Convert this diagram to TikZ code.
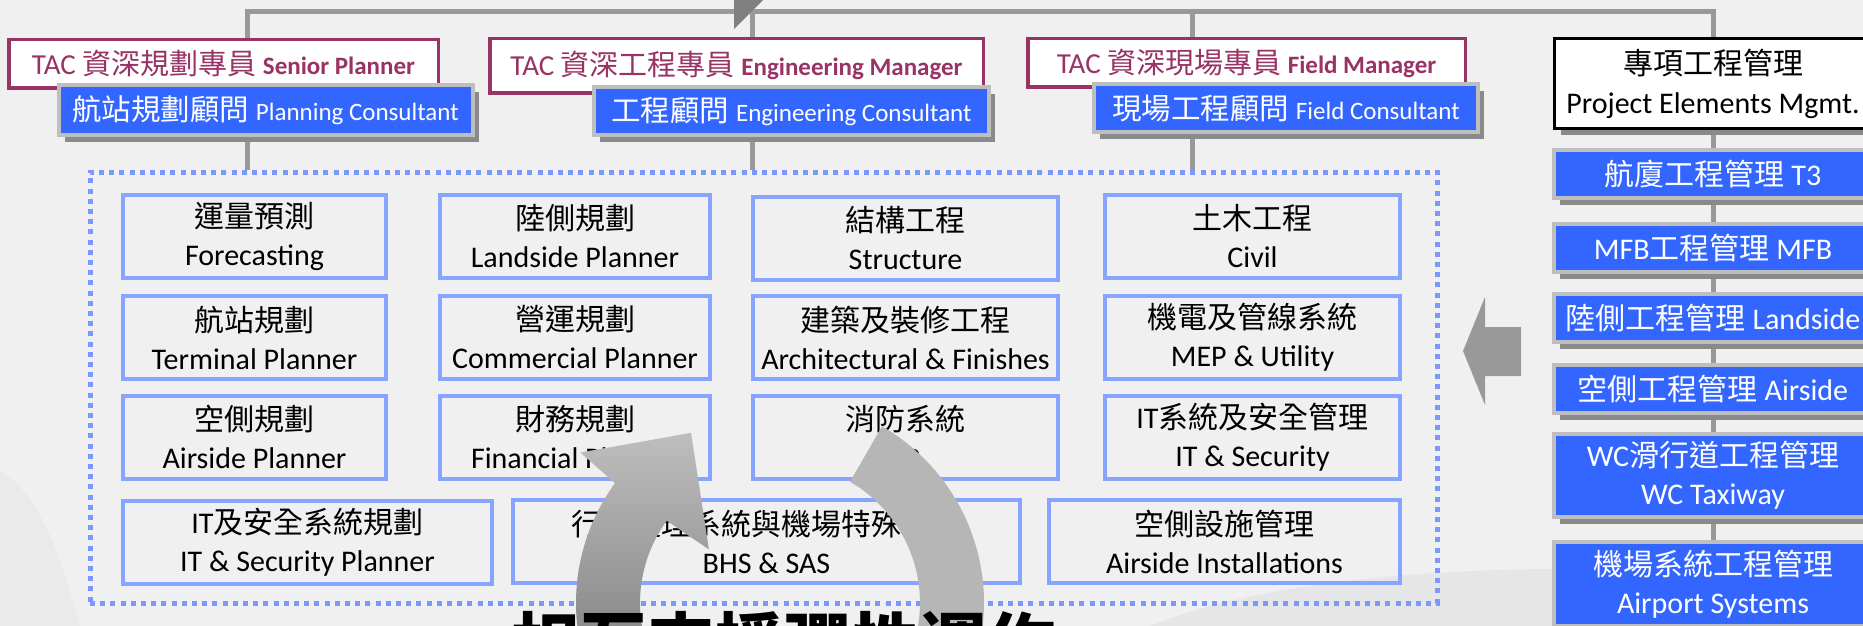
\documentclass[tikz,border=0pt]{standalone}
\usepackage{fontspec}
\setmainfont{Carlito}
\newfontfamily\zhfont{Noto Sans CJK TC}
\usepackage{tikz}
\usetikzlibrary{calc,shapes,positioning}
\usetikzlibrary{shadows}
\usetikzlibrary{backgrounds}

\definecolor{bggray}{RGB}{240,240,240}
\definecolor{bgshade}{RGB}{230,230,230}
\definecolor{bgfaint}{RGB}{234,234,234}
\definecolor{maroon}{RGB}{153,51,102}
\definecolor{unitblue}{RGB}{135,165,255}
\definecolor{dotblue}{RGB}{122,152,255}
\definecolor{fillblue}{RGB}{51,102,255}
\definecolor{rimgray}{RGB}{190,190,190}
\definecolor{shadegray}{RGB}{138,138,138}
\definecolor{linkgray}{RGB}{153,153,153}
\definecolor{arcgray}{RGB}{182,182,182}
\definecolor{arrowdark}{RGB}{128,128,128}
\definecolor{arrowlight}{RGB}{190,190,190}

\newcommand{\zh}[1]{{\zhfont #1}}
\newcommand{\engsm}[1]{{\fontsize{12.5}{15}\selectfont #1}}

\begin{document}
\begin{tikzpicture}[x=0.5pt, y=-0.5pt]
          \tikzstyle{unit} = [draw=unitblue, line width=2pt, align=center, inner sep=0pt, minimum height=41.5pt, font=\fontsize{15}{19}\selectfont]
          \tikzstyle{mgr} = [draw=maroon, fill=white, line width=1.75pt, text=maroon, inner sep=0pt, font=\fontsize{14.5}{18}\selectfont]
          \tikzstyle{cons} = [draw=rimgray, fill=fillblue, line width=2pt, text=white, align=center, inner sep=0pt, minimum height=24pt, font=\fontsize{14.75}{18}\selectfont, drop shadow={shadow xshift=3pt, shadow yshift=-3.5pt, opacity=1, fill=shadegray}]
          \tikzstyle{task} = [cons, minimum width=159pt, font=\fontsize{15}{19}\selectfont]
          \tikzstyle{pm} = [draw=black, fill=white, line width=1.5pt, align=center, inner sep=0pt, font=\fontsize{15}{19.5}\selectfont, drop shadow={shadow xshift=3pt, shadow yshift=-3.5pt, opacity=1, fill=shadegray}]
          \tikzstyle{pool} = [draw=dotblue, line width=2.5pt, dash pattern=on 2.5pt off 2.6pt, inner sep=0pt]
          \tikzstyle{link} = [draw=linkgray, line width=2.5pt]
          \tikzstyle{motto} = [inner sep=0pt, font=\zhfont\bfseries\fontsize{34}{40}\selectfont]

          \useasboundingbox (0,0) rectangle (1863,626);
          \clip (0,0) rectangle (1863,626);
          \begin{scope}[on background layer]
            \fill[bggray] (0,0) rectangle (1863,626);
            \fill[bgshade] (1150,626) .. controls (1300,566) and (1550,560) .. (1863,576) -- (1863,626) -- cycle;
            \fill[bgfaint] (0,470) .. controls (45,500) and (60,560) .. (80,626) -- (0,626) -- cycle;
          \end{scope}

          \coordinate (hub1) at (247,12);
          \coordinate (hub2) at (752,12);
          \coordinate (hub3) at (1192,12);
          \coordinate (hub4) at (1713,12);

          % planning and engineering units
          \node[pool, minimum width=673.5pt, minimum height=215.5pt] (pool) at (763.5,387.5) {};

          \node[unit, minimum width=131.5pt] (fcst) at (254.5,236.5) {\zh{運量預測}\\Forecasting};
          \node[unit, minimum width=131.5pt] (term) at (254.5,337.5) {\zh{航站規劃}\\Terminal Planner};
          \node[unit, minimum width=131.5pt] (aplan) at (254.5,437) {\zh{空側規劃}\\Airside Planner};

          \node[unit, minimum width=135pt] (land) at (575,236.5) {\zh{陸側規劃}\\Landside Planner};
          \node[unit, minimum width=135pt] (comm) at (575,337.5) {\zh{營運規劃}\\Commercial Planner};
          \node[unit, minimum width=135pt] (fin) at (575,437) {\zh{財務規劃}\\Financial Planner};

          \node[unit, minimum width=152.5pt] (struc) at (905.5,238) {\zh{結構工程}\\Structure};
          \node[unit, minimum width=152.5pt] (arch) at (905.5,337.5) {\zh{建築及裝修工程}\\Architectural \& Finishes};
          \node[unit, minimum width=152.5pt] (fire) at (905.5,437) {\zh{消防系統}\\FP};

          \node[unit, minimum width=147.5pt] (civil) at (1252.5,236.5) {\zh{土木工程}\\Civil};
          \node[unit, minimum width=147.5pt] (mep) at (1252.5,337.5) {\zh{機電及管線系統}\\MEP \& Utility};
          \node[unit, minimum width=147.5pt] (itsec) at (1252.5,437) {IT\zh{系統及安全管理}\\IT \& Security};

          \node[unit, minimum width=184.5pt] (itplan) at (307.5,542.5) {IT\zh{及安全系統規劃}\\IT \& Security Planner};
          \node[unit, minimum width=253.5pt] (bhs) at (766.5,541.5) {\zh{行李處理系統與機場特殊系統}\\BHS \& SAS};
          \node[unit, minimum width=175.5pt] (ains) at (1224.5,541.5) {\zh{空側設施管理}\\Airside Installations};

          % managers and consultants
          \node[mgr, minimum width=214.75pt, minimum height=24.25pt] (senior) at (223.5,64) {\raisebox{2pt}{TAC \zh{資深規劃專員} \engsm{\bfseries Senior Planner}}};
          \node[mgr, minimum width=246.75pt, minimum height=27.25pt] (engmgr) at (736.5,66) {\raisebox{3pt}{TAC \zh{資深工程專員} \engsm{\bfseries Engineering Manager}}};
          \node[mgr, minimum width=218.75pt, minimum height=24.25pt] (fieldmgr) at (1246.5,63) {\raisebox{2pt}{TAC \zh{資深現場專員} \engsm{\bfseries Field Manager}}};

          \node[cons, minimum width=207pt, minimum height=25pt] (planning) at (265.5,110) {\zh{航站規劃顧問} \engsm{Planning Consultant}};
          \node[cons, minimum width=197.5pt] (engcons) at (791.5,111) {\zh{工程顧問} \engsm{Engineering Consultant}};
          \node[cons, minimum width=192pt] (fieldcons) at (1286,108) {\zh{現場工程顧問} \engsm{Field Consultant}};

          % project elements column
          \node[pm, minimum width=158.5pt, minimum height=45pt] (project) at (1713,83.5) {\zh{專項工程管理}\\Project Elements Mgmt.};
          \node[task] (t3) at (1713,174) {\zh{航廈工程管理} T3};
          \node[task] (mfb) at (1713,247.5) {MFB\zh{工程管理} MFB};
          \node[task] (lside) at (1713,318) {\zh{陸側工程管理} Landside};
          \node[task] (aside) at (1713,389) {\zh{空側工程管理} Airside};
          \node[task, minimum height=41.5pt] (wc) at (1713,475.5) {WC\zh{滑行道工程管理}\\WC Taxiway};
          \node[task, minimum height=42pt] (apsys) at (1713,584) {\zh{機場系統工程管理}\\Airport Systems};

          \begin{scope}[on background layer]
            \draw[link] (senior.north -| hub1) -- (hub1) -- (hub4) -- (project.north);
            \draw[link] (hub2) -- (engmgr.north -| hub2);
            \draw[link] (hub3) -- (fieldmgr.north -| hub3);
            \draw[link] (planning.south -| hub1) -- (pool.north -| hub1);
            \draw[link] (engcons.south -| hub2) -- (pool.north -| hub2);
            \draw[link] (fieldcons.south -| hub3) -- (pool.north -| hub3);
            \draw[link] (project.south) -- (apsys.north);
          \end{scope}

          % block arrow and top arrow tip
          \fill[linkgray] (1463,351) -- (1485,297) -- (1485,327) -- (1521,327) -- (1521,376) -- (1485,376) -- (1485,405) -- cycle;
          \fill[arrowdark] (734,0) -- (763,0) -- (734,29) -- cycle;

          % cycle arrows
          \coordinate (ring) at (780,603);
          \fill[arcgray] ($(ring)+(300:204)$) arc[start angle=300, end angle=400, radius=204]
            -- ($(ring)+(400:140)$) arc[start angle=400, end angle=300, radius=140] -- cycle;
          \shade[top color=arrowlight, bottom color=arrowdark] ($(ring)+(160:204)$) arc[start angle=160, end angle=216, radius=204]
            -- ($(ring)+(217:250)$) -- ($(ring)+(242.4:192)$) -- ($(ring)+(217:89)$)
            -- ($(ring)+(216:140)$) arc[start angle=216, end angle=160, radius=140] -- cycle;

          \node[motto, anchor=north] (slogan) at (783,611) {相互支援彈性運作};
        \end{tikzpicture}
\end{document}
